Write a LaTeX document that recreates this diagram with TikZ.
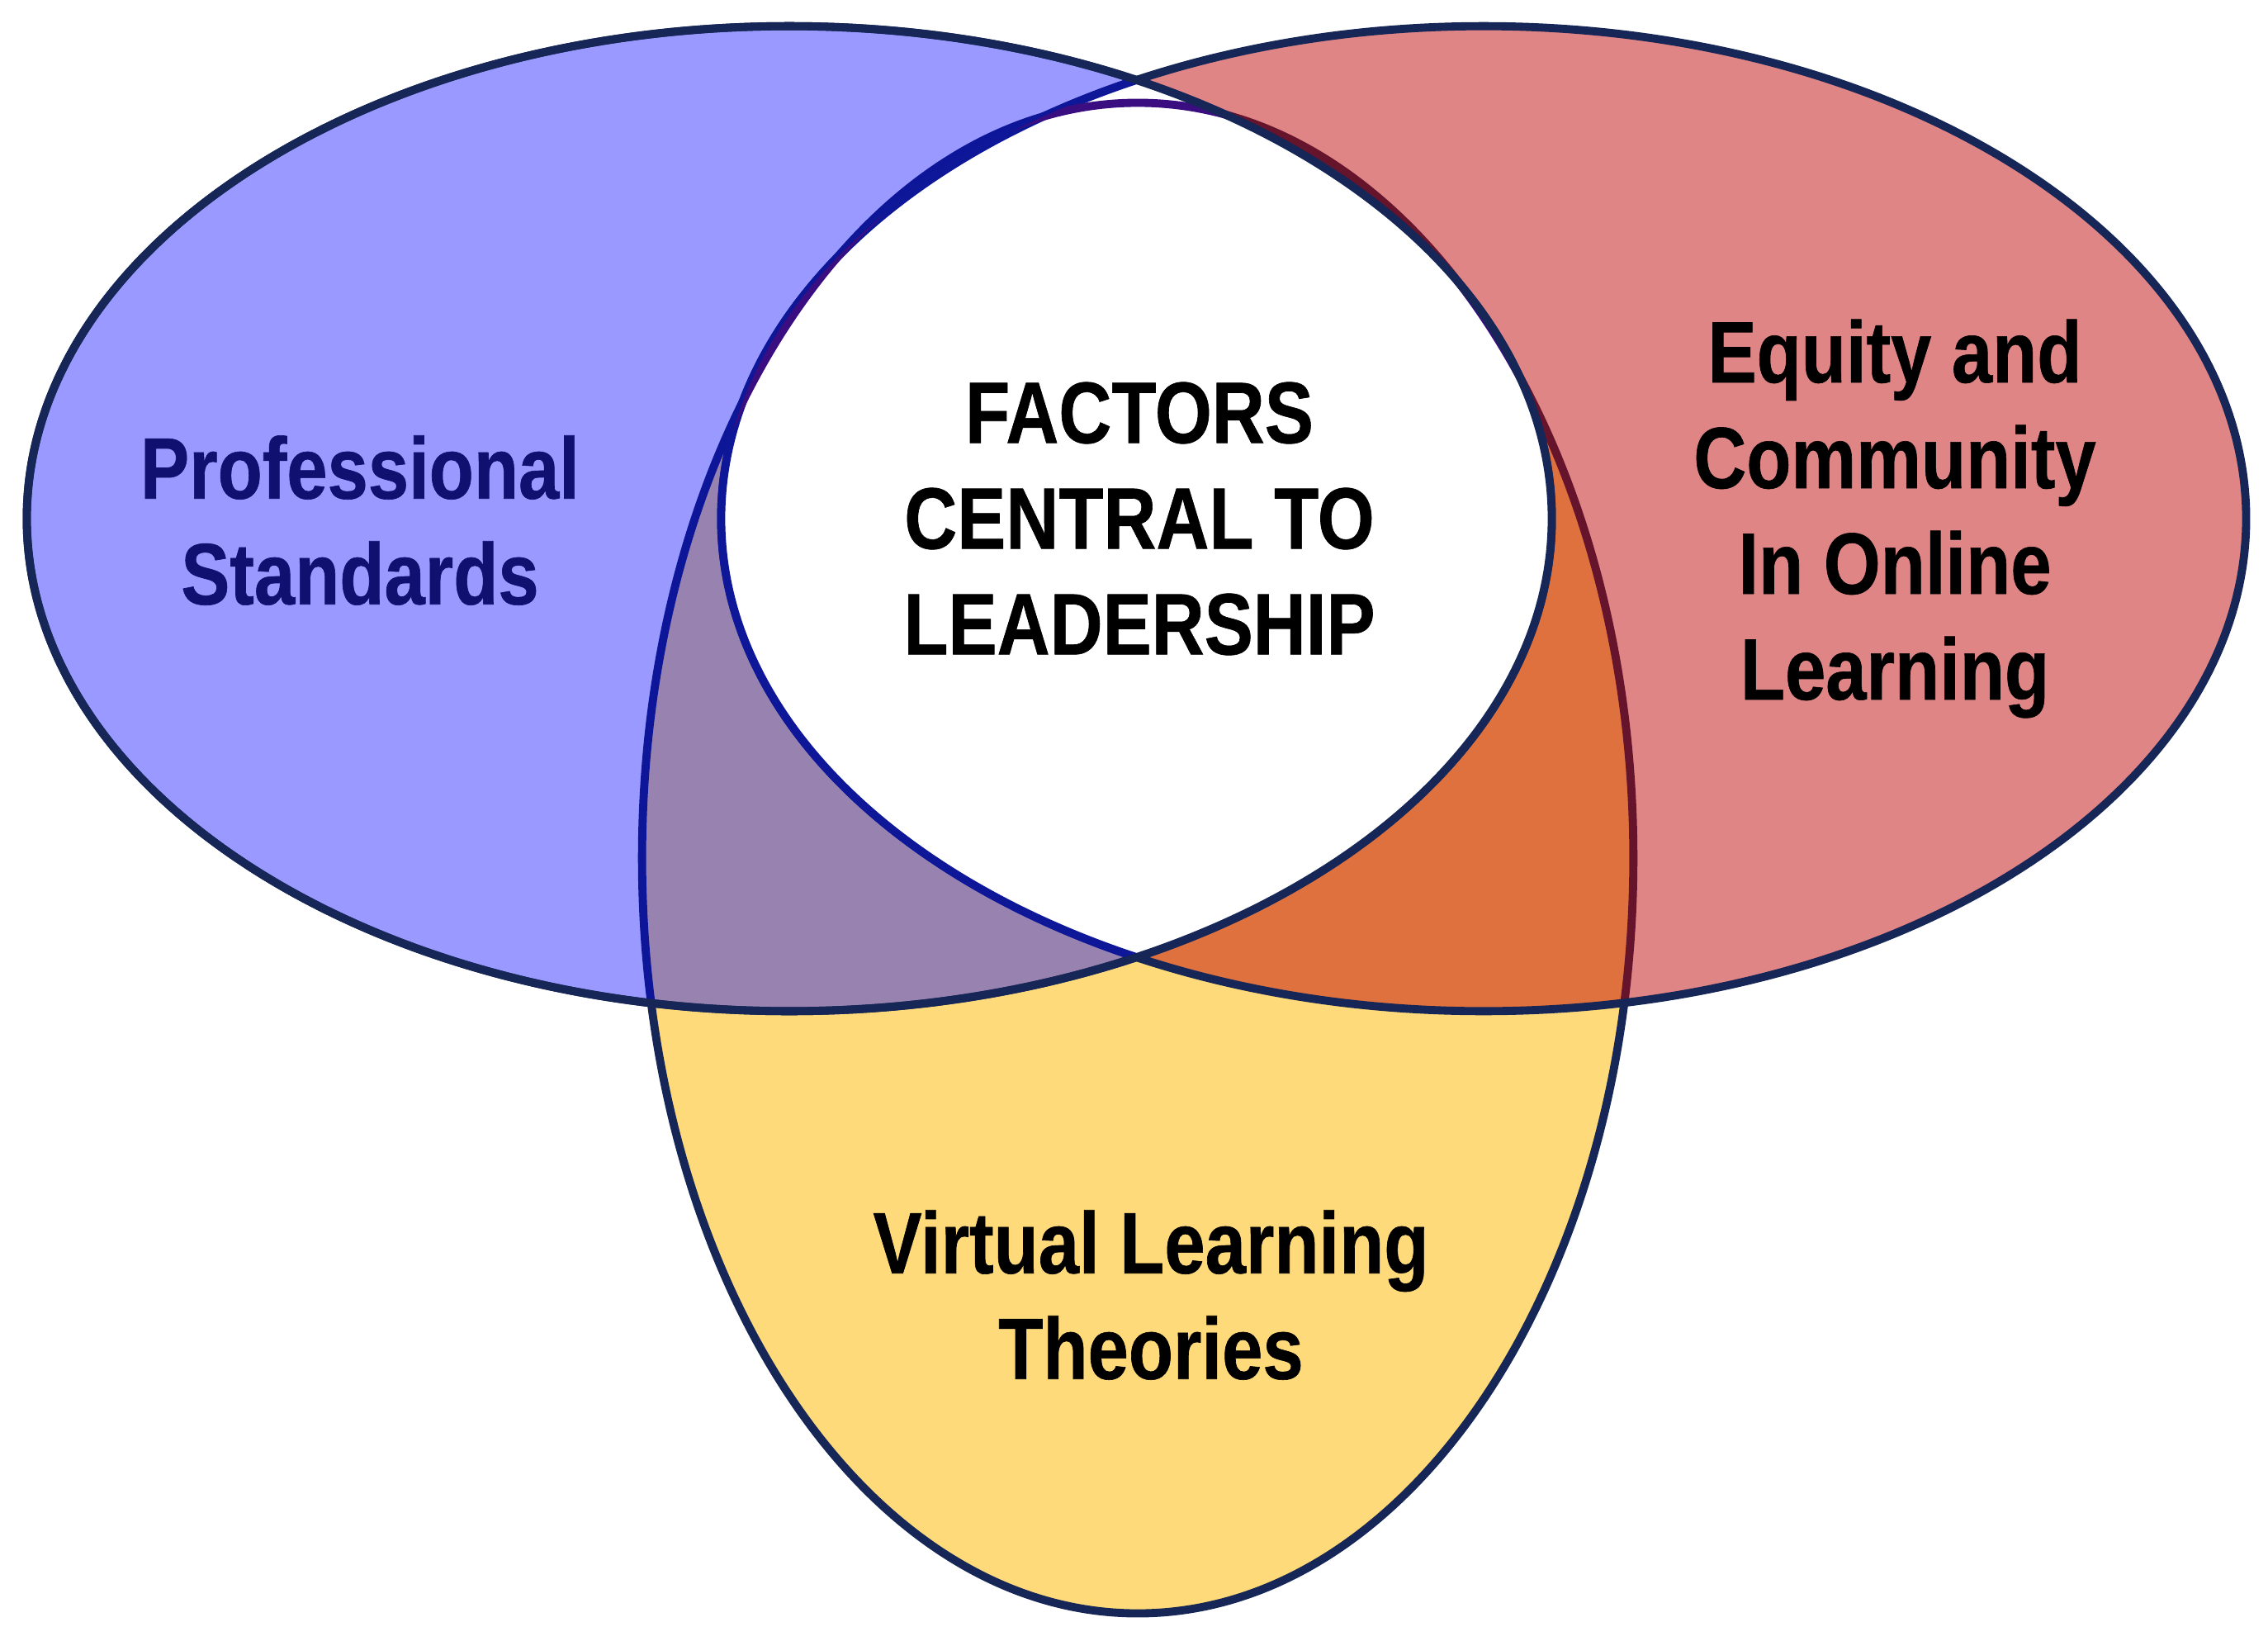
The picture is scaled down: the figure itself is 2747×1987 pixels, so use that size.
\documentclass[tikz,border=0pt]{standalone}
\usepackage{fontspec}
\newfontfamily\vennfont{Liberation Sans}[FakeStretch=0.84, BoldFeatures={FakeBold=0.6}]
\definecolor{rimNavy}{RGB}{22,38,86}
\definecolor{rimBlue}{RGB}{13,23,151}
\definecolor{rimPurple}{RGB}{58,14,129}
\definecolor{yellowFill}{RGB}{254,218,122}
\definecolor{redFill}{RGB}{191,0,0}
\definecolor{textNavy}{RGB}{16,16,112}
\newcommand{\profShape}{(P) ellipse [x radius=9.23cm, y radius=5.96cm]}
\newcommand{\equityShape}{(E) ellipse [x radius=9.23cm, y radius=5.96cm]}
\newcommand{\virtualShape}{(V) ellipse [x radius=6cm, y radius=9.14cm]}

\begin{document}
\begin{tikzpicture}[
    x=0.01cm, y=-0.01cm,
    rim/.style={draw=rimNavy, line width=2.8pt},
    setname/.style={font=\vennfont\bfseries\fontsize{30}{36.4}\selectfont, align=center, inner sep=0pt},
  ]
  \useasboundingbox (0,0) rectangle (2747,1987);
  \coordinate (P) at (956,628);
  \coordinate (E) at (1797,628);
  \coordinate (V) at (1378,1039);

  % bottom set first, the two wide ones see through
  \fill[yellowFill] \virtualShape;
  \draw[rim] \virtualShape;
  \fill[redFill, fill opacity=0.48] \equityShape;
  \draw[rim] \equityShape;
  \fill[blue, fill opacity=0.4] \profShape;
  \draw[rim] \profShape;

  % white centre
  \begin{scope}
    \clip \profShape;
    \fill[white] \equityShape;
    \draw[rim, draw=rimBlue] \equityShape;
    \clip \equityShape;
    \draw[rim, draw=rimPurple] \virtualShape;
  \end{scope}
  \draw[rim] \profShape;

  \node[setname, text=textNavy] (prof) at (436,630) {Professional\\Standards};
  \node[setname] (core) at (1380,628) {FACTORS\\CENTRAL TO\\LEADERSHIP};
  \node[setname] (equity) at (2295,628) {Equity and\\Community\\In Online\\Learning};
  \node[setname] (virtual) at (1394,1568) {Virtual Learning\\Theories};
\end{tikzpicture}
\end{document}
